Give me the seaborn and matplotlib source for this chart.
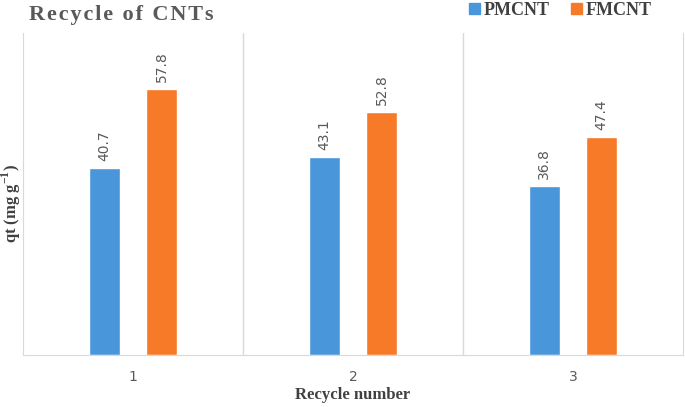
import pandas as pd
import matplotlib.pyplot as plt
import seaborn as sns

cycles = ['1', '2', '3']
pmcnt = [40.7, 43.1, 36.8]
fmcnt = [57.8, 52.8, 47.4]
series = ['PMCNT', 'FMCNT']
colors = ['#4a96db', '#f77a29']

df = pd.DataFrame({
    'cycle': cycles * 2,
    'qt': pmcnt + fmcnt,
    'material': [series[0]] * 3 + [series[1]] * 3,
})

sns.set_style('white')
plt.rcParams['font.family'] = ['DejaVu Sans']
plt.rcParams['mathtext.fontset'] = 'custom'
plt.rcParams['mathtext.rm'] = 'Liberation Serif:bold'
plt.rcParams['mathtext.bf'] = 'Liberation Serif:bold'

fig = plt.figure(figsize=(6.85, 4.07), dpi=100)
ax = fig.add_axes([0.0336, 0.128, 0.9634, 0.791])

sns.barplot(data=df, x='cycle', y='qt', hue='material', palette=colors,
            saturation=1, width=0.52, gap=0.45, ax=ax, legend=False)

for cont in ax.containers:
    ax.bar_label(cont, fmt='%.1f', rotation=90, padding=5,
                 color='#595959', fontsize=10)

ax.set_ylim(0, 70)
ax.set_xlim(-0.5, 2.5)
ax.set_yticks([])
ax.set_xticks([0.5, 1.5], minor=True)
ax.grid(True, which='minor', axis='x', color='#d9d9d9', linewidth=1)
ax.tick_params(axis='x', which='major', length=0, pad=11,
               labelsize=10, labelcolor='#595959')
ax.tick_params(axis='x', which='minor', length=0)
for side in ['left', 'right', 'bottom']:
    ax.spines[side].set_color('#d9d9d9')
ax.spines['top'].set_visible(False)

serif = ['Liberation Serif', 'DejaVu Serif']
ax.set_xlabel('Recycle number', fontsize=12, fontweight='bold',
              family=serif, color='#404040')
ax.xaxis.set_label_coords(0.5, -0.1)
ax.set_ylabel(r'qt (mg g$^{-1}$)', fontsize=12, fontweight='bold',
              family=serif, color='#404040')
ax.yaxis.set_label_coords(0.0, 0.47)

hs = '\u200a'
title = hs.join('Recycle of CNTs')
fig.text(0.042, 0.962, title, fontsize=16, fontweight='bold',
         family=serif, color='#595959', va='center')

handles = [plt.Rectangle((0, 0), 1, 1, color=c) for c in colors]
fig.legend(handles, series, loc='center', bbox_to_anchor=(0.818, 0.975),
           ncol=2, frameon=False, handlelength=0.6, handleheight=0.6,
           handletextpad=0.2, columnspacing=1.2,
           prop={'family': serif, 'weight': 'bold', 'size': 13},
           labelcolor='#404040')

fig.savefig('out.png', dpi=100)
